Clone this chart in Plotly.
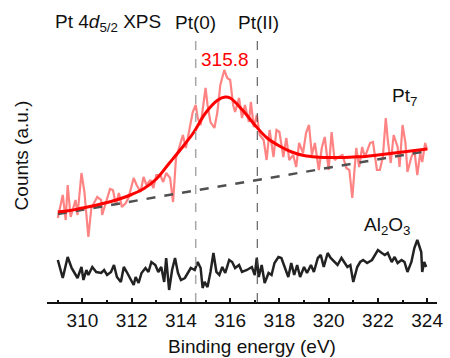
import plotly.graph_objects as go

# Pt7 raw spectrum (binding energy eV, counts a.u.)
pt_energy = [309.00, 309.20, 309.32, 309.40, 309.52, 309.60, 309.72, 309.80, 309.96, 310.08,
             310.16, 310.24, 310.36, 310.48, 310.60, 310.76, 310.80, 310.96, 311.12, 311.24,
             311.36, 311.48, 311.60, 311.76, 311.88, 312.08, 312.20, 312.36, 312.48, 312.60,
             312.76, 312.88, 313.00, 313.16, 313.28, 313.40, 313.56, 313.68, 313.80, 313.96,
             314.08, 314.20, 314.36, 314.48, 314.60, 314.68, 314.80, 315.00, 315.08, 315.20,
             315.36, 315.48, 315.60, 315.76, 315.88, 316.00, 316.12, 316.20, 316.36, 316.48,
             316.60, 316.76, 316.84, 316.96, 317.08, 317.20, 317.36, 317.48, 317.60, 317.76,
             317.88, 318.00, 318.16, 318.28, 318.40, 318.56, 318.68, 318.80, 318.96, 319.08,
             319.20, 319.32, 319.44, 319.60, 319.72, 319.84, 320.00, 320.12, 320.24, 320.40,
             320.56, 320.72, 320.84, 320.96, 321.12, 321.24, 321.36, 321.47, 321.68, 321.80,
             321.96, 322.08, 322.20, 322.32, 322.40, 322.52, 322.64, 322.80, 322.88, 323.00,
             323.12, 323.20, 323.36, 323.48, 323.60, 323.72, 323.80, 323.92, 324.00]
pt_counts = [84, 107, 82, 117, 85, 92, 102, 87, 129, 110,
             89, 65, 94, 100, 105, 102, 87, 100, 113, 112,
             97, 109, 95, 99, 105, 124, 117, 110, 125, 117,
             122, 114, 127, 127, 120, 129, 124, 100, 144, 157,
             167, 154, 174, 190, 197, 184, 177, 214, 197, 180,
             174, 190, 217, 232, 224, 222, 197, 190, 204, 184,
             197, 180, 200, 175, 187, 167, 162, 142, 172, 145,
             172, 170, 145, 164, 142, 147, 135, 159, 149, 169,
             177, 147, 159, 132, 154, 165, 132, 170, 142, 145,
             147, 134, 132, 104, 154, 135, 155, 145, 159, 160,
             132, 132, 145, 184, 162, 139, 167, 155, 135, 177,
             159, 130, 145, 152, 127, 149, 140, 159, 152]

# Fitted peak envelope
fit_energy = [309.0, 309.5, 310.0, 310.5, 311.0, 311.5, 312.0, 312.5, 313.0, 313.5,
              314.0, 314.5, 315.0, 315.5, 315.8, 316.0, 316.5, 317.0, 317.5, 318.0,
              318.5, 319.0, 319.5, 320.0, 320.5, 321.0, 321.5, 322.0, 322.5, 323.0,
              323.5, 324.0]
fit_counts = [90, 91.5, 94, 96.5, 99.5, 103, 107.5, 113.5, 123, 138,
              153, 169, 189, 202, 205, 204, 192, 177, 164, 156,
              150, 146.5, 145, 144.5, 144.5, 145, 145.5, 147, 148.5, 150,
              151.5, 153]

# Linear background
bg_energy = [309.0, 324.0]
bg_counts = [88, 151]

# Al2O3 reference spectrum
al_energy = [309.00, 309.20, 309.40, 309.56, 309.68, 309.80, 309.96, 310.04, 310.16, 310.24,
             310.40, 310.56, 310.76, 310.88, 311.00, 311.16, 311.28, 311.40, 311.56, 311.68,
             311.80, 311.96, 312.08, 312.16, 312.28, 312.40, 312.56, 312.68, 312.80, 312.96,
             313.08, 313.20, 313.32, 313.40, 313.52, 313.64, 313.76, 313.88, 314.00, 314.16,
             314.28, 314.40, 314.56, 314.68, 314.80, 314.88, 314.96, 315.08, 315.20, 315.32,
             315.44, 315.56, 315.68, 315.80, 315.96, 316.08, 316.20, 316.36, 316.48, 316.68,
             316.88, 317.00, 317.08, 317.16, 317.28, 317.40, 317.56, 317.68, 317.80, 317.96,
             318.08, 318.20, 318.36, 318.48, 318.60, 318.72, 318.84, 319.00, 319.12, 319.28,
             319.40, 319.56, 319.68, 319.80, 319.96, 320.08, 320.24, 320.36, 320.52, 320.64,
             320.76, 320.88, 321.00, 321.16, 321.28, 321.40, 321.56, 321.76, 321.88, 322.00,
             322.16, 322.28, 322.40, 322.56, 322.68, 322.80, 322.96, 323.08, 323.20, 323.36,
             323.48, 323.60, 323.76, 323.80, 323.88, 323.96]
al_counts = [42, 24, 45, 34, 29, 24, 35, 22, 32, 27,
             35, 30, 29, 32, 27, 30, 37, 25, 20, 35,
             30, 22, 17, 25, 19, 29, 34, 30, 40, 37,
             30, 35, 20, 44, 12, 32, 44, 29, 22, 24,
             29, 34, 32, 40, 34, 14, 20, 15, 30, 49,
             30, 27, 35, 29, 42, 40, 34, 37, 30, 32,
             35, 27, 44, 25, 37, 19, 29, 27, 39, 45,
             44, 35, 25, 39, 27, 37, 25, 35, 29, 37,
             30, 44, 47, 35, 49, 44, 40, 37, 44, 39,
             35, 37, 20, 35, 40, 42, 39, 42, 47, 52,
             49, 47, 49, 40, 45, 39, 42, 40, 30, 40,
             54, 62, 50, 30, 40, 35]

ref_lines = [314.6, 317.1]
peak_pos = 315.8
x_ticks = [310, 312, 314, 316, 318, 320, 322, 324]

FONT = "Liberation Sans, Arial, sans-serif"
FS = 19

fig = go.Figure()
fig.add_trace(go.Scatter(x=pt_energy, y=pt_counts, mode="lines",
                         line=dict(color="rgba(255,90,90,0.75)", width=2.2), hoverinfo="skip"))
fig.add_trace(go.Scatter(x=bg_energy, y=bg_counts, mode="lines",
                         line=dict(color="#505050", width=2.5, dash="dash")))
fig.add_trace(go.Scatter(x=fit_energy, y=fit_counts, mode="lines",
                         line=dict(color="#ff0000", width=3, shape="spline")))
fig.add_trace(go.Scatter(x=al_energy, y=al_counts, mode="lines",
                         line=dict(color="#222222", width=2.5)))

fig.add_shape(type="line", x0=ref_lines[0], x1=ref_lines[0], y0=0, y1=264,
              line=dict(color="#a8a8a8", width=1.5, dash="dash"))
fig.add_shape(type="line", x0=ref_lines[1], x1=ref_lines[1], y0=0, y1=264,
              line=dict(color="#444444", width=1, dash="dash"))

ann_font = dict(family=FONT, size=FS, color="#111111")
def note(x, y, text, font=ann_font, xref="x", **kw):
    fig.add_annotation(x=x, y=y, xref=xref, yref="paper", text=text, showarrow=False,
                       font=font, xanchor="center", yanchor="middle", **kw)

note(311.04, 1.026, "Pt 4<i>d</i><sub>5/2</sub> XPS")
note(ref_lines[0], 1.026, "Pt(0)")
note(ref_lines[1] + 0.05, 1.026, "Pt(II)")
note(peak_pos, 0.89, f"{peak_pos}", font=dict(family=FONT, size=FS, color="#ff0000"))
note(323.1, 0.752, "Pt<sub>7</sub>")
note(322.4, 0.28, "Al<sub>2</sub>O<sub>3</sub>")
note(0.525, -0.165, "Binding energy (eV)", xref="paper")
note(-0.066, 0.54, "Counts (a.u.)", xref="paper", textangle=-90)

fig.update_layout(
    width=450, height=358,
    margin=dict(l=47, r=7, t=30, b=56),
    paper_bgcolor="white", plot_bgcolor="white",
    showlegend=False,
    font=dict(family=FONT, size=FS, color="#111111"),
    xaxis=dict(range=[308.56, 324.4], tickvals=x_ticks, ticks="inside", ticklen=4, tickwidth=2,
               tickcolor="#111", showline=True, linewidth=2, linecolor="#111", showgrid=False,
               zeroline=False, tickfont=dict(family=FONT, size=FS, color="#111"),
               minor=dict(ticks="inside", ticklen=2, tickwidth=1.5, dtick=1, tick0=309, tickcolor="#111",
                          showgrid=False)),
    yaxis=dict(range=[0, 272], showticklabels=False, ticks="", showline=False, showgrid=False,
               zeroline=False),
)

fig.write_html("out.html")
